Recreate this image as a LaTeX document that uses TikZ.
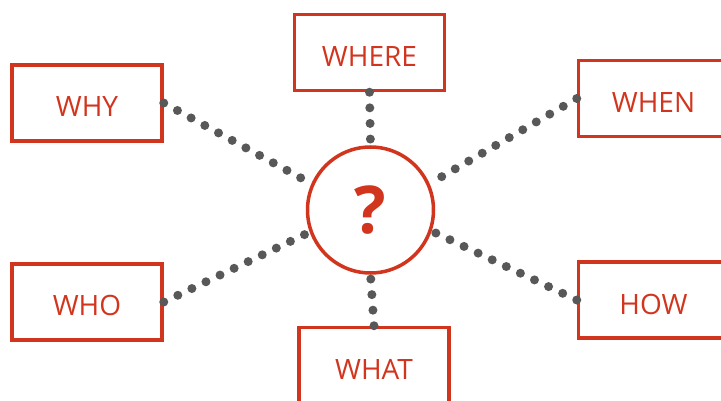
\documentclass[tikz,border=0pt]{standalone}
\usepackage{fontspec}
\setmainfont{Open Sans}
\usepackage{xcolor}
\definecolor{wred}{HTML}{D2351E}
\definecolor{dotgray}{HTML}{585858}

\begin{document}
\begin{tikzpicture}[x=1pt,y=-1pt,
	wbox/.style={draw=wred, line width=3.5, text=wred, minimum width=150pt, minimum height=76pt, inner sep=0pt, text height=28pt, text depth=0pt, font=\fontsize{28}{28}\selectfont},
	dots/.style={draw=dotgray, line width=9, line cap=round, dash pattern=on 0pt off 15.6pt}]
	\useasboundingbox (0,0) rectangle (721,401);

	% the question in the middle
	\node[circle, draw=wred, line width=3.5, minimum size=126pt, inner sep=0pt, text=wred, font=\fontsize{66}{66}\selectfont\bfseries] (q) at (370.5,210) {?};

	\node[wbox] (where) at (369.5,52.5) {WHERE};
	\node[wbox] (why) at (87,103) {WHY};
	\node[wbox] (when) at (653.5,98.5) {WHEN};
	\node[wbox] (who) at (87,302) {WHO};
	\node[wbox] (how) at (653.5,300) {HOW};
	\node[wbox] (what) at (374,365.5) {WHAT};

	\draw[dots] (where.south) -- (q.north);
	\draw[dots] (what.north) -- (q.south);
	\draw[dots] (why.east) -- (q.156);
	\draw[dots] (who.east) -- (q.200);
	\draw[dots] (when.west) -- (q.24);
	\draw[dots] (how.west) -- (q.-19);
\end{tikzpicture}
\end{document}
